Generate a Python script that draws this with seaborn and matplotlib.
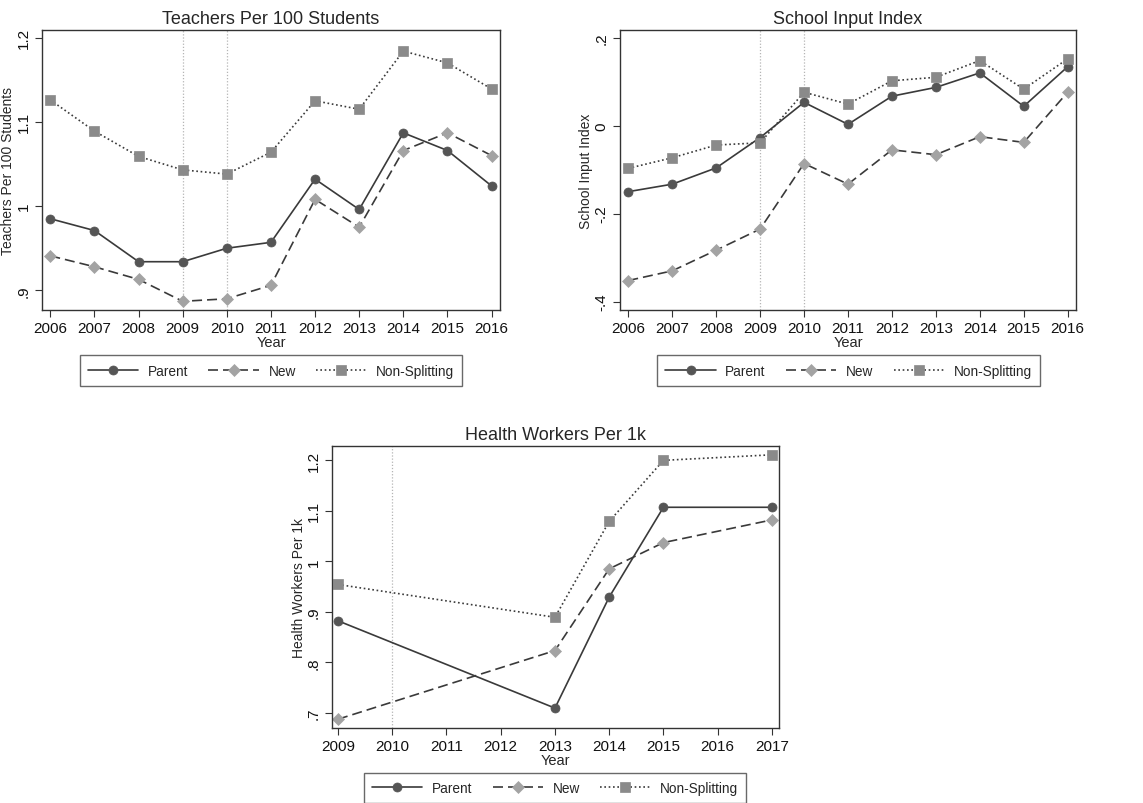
import matplotlib
matplotlib.use("Agg")
import matplotlib.pyplot as plt
import seaborn as sns
import pandas as pd

# ---------------- data ----------------
years_school = [2006, 2007, 2008, 2009, 2010, 2011, 2012, 2013, 2014, 2015, 2016]
teach_parent = [0.985, 0.971, 0.934, 0.934, 0.950, 0.957, 1.032, 0.996, 1.087, 1.066, 1.024]
teach_new = [0.941, 0.928, 0.913, 0.887, 0.890, 0.906, 1.008, 0.975, 1.066, 1.087, 1.060]
teach_non = [1.126, 1.089, 1.059, 1.043, 1.038, 1.064, 1.125, 1.115, 1.184, 1.170, 1.139]

school_parent = [-0.150, -0.133, -0.096, -0.027, 0.053, 0.003, 0.067, 0.087, 0.120, 0.044, 0.134]
school_new = [-0.352, -0.330, -0.283, -0.235, -0.086, -0.133, -0.055, -0.066, -0.025, -0.038, 0.076]
school_non = [-0.097, -0.073, -0.044, -0.039, 0.076, 0.049, 0.102, 0.110, 0.148, 0.083, 0.152]

years_health = [2009, 2013, 2014, 2015, 2017]
health_parent = [0.882, 0.709, 0.929, 1.107, 1.107]
health_new = [0.687, 0.823, 0.985, 1.037, 1.082]
health_non = [0.954, 0.889, 1.079, 1.200, 1.211]

series_names = ["Parent", "New", "Non-Splitting"]

teach_yticks = [0.9, 1.0, 1.1, 1.2]
teach_ylabels = [".9", "1", "1.1", "1.2"]
school_yticks = [-0.4, -0.2, 0.0, 0.2]
school_ylabels = ["-.4", "-.2", "0", ".2"]
health_yticks = [0.7, 0.8, 0.9, 1.0, 1.1, 1.2]
health_ylabels = [".7", ".8", ".9", "1", "1.1", "1.2"]
health_xticks = [2009, 2010, 2011, 2012, 2013, 2014, 2015, 2016, 2017]

# ---------------- style ----------------
sns.set_style("ticks")
plt.rcParams["font.family"] = ["Liberation Sans", "DejaVu Sans"]
plt.rcParams["axes.edgecolor"] = "#333333"
plt.rcParams["axes.linewidth"] = 1.0
plt.rcParams["xtick.color"] = "#333333"
plt.rcParams["ytick.color"] = "#333333"
plt.rcParams["xtick.labelcolor"] = "#111111"
plt.rcParams["ytick.labelcolor"] = "#111111"

line_color = "#3a3a3a"
styles = {
    "Parent": dict(linestyle="-", marker="o", mfc="#555555", mec="#555555", ms=6.5),
    "New": dict(linestyle=(0, (6, 3)), marker="D", mfc="#a3a3a3", mec="#a3a3a3", ms=6.0),
    "Non-Splitting": dict(linestyle=(0, (1, 1.6)), marker="s", mfc="#8a8a8a", mec="#8a8a8a", ms=6.5),
}

fig = plt.figure(figsize=(11.43, 8.04), dpi=100)
ax1 = fig.add_axes([0.0367, 0.6132, 0.4007, 0.3482])
ax2 = fig.add_axes([0.5424, 0.6132, 0.3990, 0.3482])
ax3 = fig.add_axes([0.2905, 0.0933, 0.3910, 0.3507])


def draw(ax, years, vals, title, ylabel, yticks, ylabels, xticks, xlim, ylim, vlines,
         legend_center):
    for xv in vlines:
        ax.axvline(xv, color="#b5b5b5", linestyle=(0, (1, 1.5)), linewidth=0.9, zorder=0)
    df = pd.DataFrame({"Year": years * 3,
                       "value": [v for s in vals for v in s],
                       "series": [n for n, s in zip(series_names, vals) for _ in s]})
    handles = []
    for name in series_names:
        st = styles[name]
        sub = df[df["series"] == name]
        sns.lineplot(data=sub, x="Year", y="value", ax=ax, color=line_color,
                     linewidth=1.2, linestyle=st["linestyle"], marker=st["marker"],
                     markerfacecolor=st["mfc"], markeredgecolor=st["mec"],
                     markersize=st["ms"], markeredgewidth=0.5, label=name,
                     legend=False)
        handles.append(ax.get_lines()[-1])
    ax.set_xlim(*xlim)
    ax.set_ylim(*ylim)
    ax.set_xticks(xticks)
    ax.set_xticklabels([str(x) for x in xticks], fontsize=11)
    ax.set_yticks(yticks)
    ax.set_yticklabels(ylabels, fontsize=11, rotation=90, va="center")
    ax.tick_params(axis="both", length=5, width=0.8, pad=3)
    ax.set_xlabel("Year", fontsize=10.5, labelpad=0)
    ax.set_ylabel(ylabel, fontsize=10, labelpad=1)
    ax.set_title(title, fontsize=13, pad=5)
    for sp in ax.spines.values():
        sp.set_visible(True)
    leg = fig.legend(handles=handles, labels=series_names, loc="center",
                     bbox_to_anchor=legend_center, ncol=3, frameon=True,
                     fancybox=False, edgecolor="#444444", fontsize=9.8,
                     handlelength=3.7, columnspacing=1.5, handletextpad=0.7,
                     borderpad=0.6, numpoints=1)
    leg.get_frame().set_linewidth(1.0)


draw(ax1, years_school, [teach_parent, teach_new, teach_non],
     "Teachers Per 100 Students", "Teachers Per 100 Students",
     teach_yticks, teach_ylabels, years_school, (2005.81, 2016.19), (0.8767, 1.209),
     [2009, 2010], (0.2371, 0.5379))

draw(ax2, years_school, [school_parent, school_new, school_non],
     "School Input Index", "School Input Index",
     school_yticks, school_ylabels, years_school, (2005.81, 2016.19), (-0.419, 0.2174),
     [2009, 2010], (0.7424, 0.5379))

draw(ax3, years_health, [health_parent, health_new, health_non],
     "Health Workers Per 1k", "Health Workers Per 1k",
     health_yticks, health_ylabels, health_xticks, (2008.89, 2017.13), (0.6696, 1.2284),
     [2010], (0.4856, 0.0187))

fig.savefig("out.png", dpi=100)
